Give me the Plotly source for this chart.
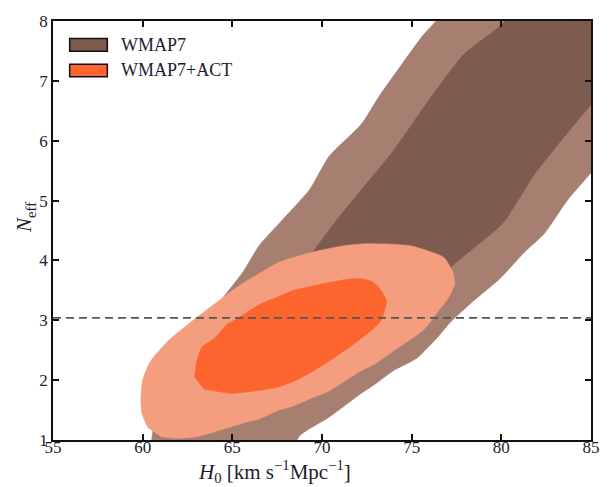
import plotly.graph_objects as go

# H0 [km/s/Mpc] vs N_eff confidence regions
# WMAP7 alone, 95% region
wmap_95_h0 = [60.4, 60.5, 60.8, 62.0, 63.5, 64.8, 65.6, 66.5, 67.8, 69.3, 70.4, 72.2,
              73.2, 74.5, 75.6, 76.5, 77.5, 87.0, 87.0, 85.0, 83.7, 82.4, 81.3, 79.9,
              78.4, 77.2, 76.4, 75.3, 74.0, 72.9, 72.2, 70.4, 68.7, 68.3]
wmap_95_neff = [0.5, 1.0, 1.5, 2.3, 3.0, 3.5, 3.81, 4.25, 4.68, 5.18, 5.74, 6.28,
                6.75, 7.3, 7.75, 8.05, 8.5, 8.5, 6.1, 5.46, 5.01, 4.45, 4.14, 3.69,
                3.31, 2.98, 2.7, 2.37, 2.16, 1.92, 1.78, 1.38, 1.05, 0.5]

# WMAP7 alone, 68% region
wmap_68_h0 = [80.8, 80.2, 77.9, 75.8, 74.0, 72.2, 70.7, 69.5, 69.0, 72.0, 76.5,
              77.3, 78.1, 80.1, 81.9, 84.1, 85.0, 86.0, 86.0]
wmap_68_neff = [8.5, 8.0, 7.44, 6.61, 5.84, 5.18, 4.63, 4.14, 3.9, 3.6, 3.7,
                3.92, 4.12, 4.63, 5.46, 6.28, 6.6, 7.0, 8.5]

# WMAP7+ACT, 95% region
act_95_h0 = [60.3, 59.95, 59.9, 60.0, 60.4, 61.4, 62.9, 64.7, 65.5, 66.5, 67.6, 69.5,
             71.3, 72.5, 74.0, 75.0, 75.8, 76.8, 77.3, 77.4, 77.0, 76.6, 75.7, 74.0,
             72.9, 72.2, 70.4, 69.5, 68.4, 67.6, 66.5, 65.8, 64.7, 63.1, 61.8, 61.0]
act_95_neff = [1.2, 1.45, 1.7, 2.0, 2.3, 2.65, 3.02, 3.43, 3.6, 3.78, 3.97, 4.14,
               4.25, 4.28, 4.27, 4.24, 4.17, 4.05, 3.8, 3.6, 3.35, 3.2, 2.85, 2.49,
               2.26, 2.16, 1.82, 1.71, 1.57, 1.5, 1.35, 1.3, 1.2, 1.06, 1.03, 1.06]

# WMAP7+ACT, 68% region
act_68_h0 = [62.9, 63.0, 63.3, 64.0, 64.7, 65.3, 66.5, 67.6, 68.4, 70.2, 71.3, 72.0,
             72.8, 73.3, 73.6, 73.3, 72.9, 72.2, 71.3, 70.4, 69.5, 68.5, 67.5, 65.8,
             64.9, 63.4]
act_68_neff = [2.05, 2.3, 2.55, 2.7, 2.93, 3.03, 3.26, 3.4, 3.5, 3.62, 3.68, 3.7,
               3.65, 3.5, 3.32, 3.0, 2.87, 2.7, 2.5, 2.32, 2.15, 1.99, 1.88, 1.8,
               1.78, 1.85]

# Standard-model value of N_eff
neff_standard = 3.04
h0_range = [55, 85]
neff_range = [1, 8]
h0_ticks = [55, 60, 65, 70, 75, 80, 85]
neff_ticks = [1, 2, 3, 4, 5, 6, 7, 8]

legend_names = ["WMAP7", "WMAP7+ACT"]
legend_colors = ["#7d5a4e", "#fd6530"]

C_WMAP_95 = "#a67f71"
C_WMAP_68 = "#7d5b4f"
C_ACT_95 = "#f59e7f"
C_ACT_68 = "#fc652d"

fig = go.Figure()

regions = [
    (wmap_95_h0, wmap_95_neff, C_WMAP_95),
    (wmap_68_h0, wmap_68_neff, C_WMAP_68),
    (act_95_h0, act_95_neff, C_ACT_95),
    (act_68_h0, act_68_neff, C_ACT_68),
]
for xs, ys, col in regions:
    fig.add_trace(go.Scatter(
        x=xs, y=ys, mode="lines", fill="toself", fillcolor=col,
        line=dict(color=col, width=0.5, shape="spline", smoothing=0.6),
        showlegend=False, hoverinfo="skip"))

fig.add_trace(go.Scatter(
    x=h0_range, y=[neff_standard, neff_standard], mode="lines",
    line=dict(color="#555555", width=1.6, dash="8px,5px"),
    showlegend=False, hoverinfo="skip"))

SERIF = "Liberation Serif, Times New Roman, serif"
TEXT = "#1c1c30"

# Legend entries: swatch boxes with labels, top-left of the axes
for i, (name, col) in enumerate(zip(legend_names, legend_colors)):
    y_top = 0.958 - i * 0.061
    fig.add_shape(type="rect", xref="paper", yref="paper",
                  x0=0.031, x1=0.101, y0=y_top - 0.030, y1=y_top,
                  fillcolor=col, line=dict(color="#111111", width=1.5))
    fig.add_annotation(xref="paper", yref="paper", x=0.123, y=y_top - 0.015,
                       text=name, showarrow=False, xanchor="left", yanchor="middle",
                       font=dict(family=SERIF, size=18, color=TEXT))

fig.add_annotation(xref="paper", yref="paper", x=0.411, y=-0.075,
                   text="<i>H</i><sub>0</sub> [km s<sup>−1</sup>Mpc<sup>−1</sup>]",
                   showarrow=False, xanchor="center", yanchor="middle",
                   font=dict(family=SERIF, size=21, color=TEXT))
fig.add_annotation(xref="paper", yref="paper", x=-0.052, y=0.53,
                   text="<i>N</i><sub>eff</sub>", textangle=-90,
                   showarrow=False, xanchor="center", yanchor="middle",
                   font=dict(family=SERIF, size=21, color=TEXT))

axis_common = dict(
    showgrid=False, zeroline=False, showline=True, linecolor="#111111", linewidth=1.8,
    mirror="allticks", ticks="inside", ticklen=6, tickwidth=1.5, tickcolor="#111111",
    tickfont=dict(family=SERIF, size=17, color=TEXT),
)

fig.update_layout(
    width=612, height=487,
    margin=dict(l=53, r=12, t=16, b=47),
    paper_bgcolor="white", plot_bgcolor="white",
    xaxis=dict(range=h0_range, tickvals=h0_ticks, ticklabelstandoff=-9, **axis_common),
    yaxis=dict(range=neff_range, tickvals=neff_ticks, **axis_common),
)

fig.write_html("out.html")
